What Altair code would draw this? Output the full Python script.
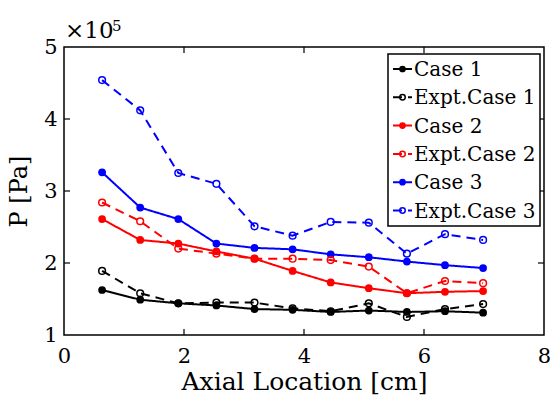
import altair as alt
import pandas as pd

# Axial measurement stations [cm]
axial_cm = [0.635, 1.27, 1.905, 2.54, 3.175, 3.81, 4.445, 5.08, 5.715, 6.35, 6.985]

# Pressure in units of 1e5 Pa
case1 = [1.625, 1.49, 1.44, 1.41, 1.36, 1.35, 1.32, 1.34, 1.32, 1.33, 1.31]
expt1 = [1.89, 1.58, 1.44, 1.45, 1.45, 1.37, 1.33, 1.44, 1.25, 1.36, 1.43]
case2 = [2.61, 2.32, 2.27, 2.16, 2.06, 1.89, 1.73, 1.65, 1.58, 1.60, 1.61]
expt2 = [2.84, 2.58, 2.20, 2.13, 2.06, 2.06, 2.04, 1.95, 1.58, 1.75, 1.72]
case3 = [3.26, 2.77, 2.61, 2.27, 2.21, 2.19, 2.12, 2.08, 2.02, 1.97, 1.93]
expt3 = [4.54, 4.12, 3.25, 3.10, 2.51, 2.38, 2.57, 2.56, 2.13, 2.40, 2.32]

series_names = ["Case 1", "Expt.Case 1", "Case 2", "Expt.Case 2", "Case 3", "Expt.Case 3"]
series_colors = ["#000000", "#000000", "#ff0000", "#ff0000", "#0000ff", "#0000ff"]
series_values = [case1, expt1, case2, expt2, case3, expt3]

x_ticks = [0, 2, 4, 6, 8]
y_ticks = [1, 2, 3, 4, 5]
x_inner_ticks = [2, 4, 6]
y_inner_ticks = [2, 3, 4]

W, H = 480, 288
FONT = "DejaVu Serif"

rows = []
for name, vals in zip(series_names, series_values):
    kind = "expt" if name.startswith("Expt") else "model"
    for x, p in zip(axial_cm, vals):
        rows.append({"series": name, "kind": kind, "x": x, "p": p})
df = pd.DataFrame(rows)

x_enc = alt.X(
    "x:Q",
    scale=alt.Scale(domain=[0, 8], nice=False),
    axis=alt.Axis(
        values=x_ticks, title="Axial Location [cm]", format="d",
        labelFlush=False, labelPadding=10, titlePadding=3, titleFontSize=25,
    ),
)
y_enc = alt.Y(
    "p:Q",
    scale=alt.Scale(domain=[1, 5], nice=False, zero=False),
    axis=alt.Axis(
        values=y_ticks, title="P [Pa]", format="d", labelFlush=False,
        labelPadding=7, titlePadding=12, titleFontSize=24,
    ),
)
color_enc = alt.Color(
    "series:N", scale=alt.Scale(domain=series_names, range=series_colors), legend=None
)
dash_enc = alt.StrokeDash(
    "kind:N", scale=alt.Scale(domain=["model", "expt"], range=[[1, 0], [9, 6]]), legend=None
)

lines = alt.Chart(df).mark_line(strokeWidth=2).encode(
    x=x_enc, y=y_enc, color=color_enc, strokeDash=dash_enc
)
filled_pts = (
    alt.Chart(df)
    .transform_filter("datum.kind == 'model'")
    .mark_point(shape="circle", filled=True, size=60, opacity=1)
    .encode(x="x:Q", y="p:Q", color=color_enc)
)
open_pts = (
    alt.Chart(df)
    .transform_filter("datum.kind == 'expt'")
    .mark_point(shape="circle", filled=False, size=45, strokeWidth=1.5, opacity=1)
    .encode(x="x:Q", y="p:Q", color=color_enc)
)

# Inward tick marks on all four sides of the box
xt = pd.DataFrame({"x": x_inner_ticks})
yt = pd.DataFrame({"p": y_inner_ticks})
tick_style = dict(color="black", strokeWidth=1.2)
ticks_bottom = alt.Chart(xt).mark_rule(**tick_style).encode(
    x="x:Q", y=alt.value(H), y2=alt.value(H - 6)
)
ticks_top = alt.Chart(xt).mark_rule(**tick_style).encode(
    x="x:Q", y=alt.value(0), y2=alt.value(6)
)
ticks_left = alt.Chart(yt).mark_rule(**tick_style).encode(
    y="p:Q", x=alt.value(0), x2=alt.value(6)
)
ticks_right = alt.Chart(yt).mark_rule(**tick_style).encode(
    y="p:Q", x=alt.value(W), x2=alt.value(W - 6)
)

# Legend box drawn inside the plot area
leg_top, leg_step = 22, 28.3
leg = pd.DataFrame(
    {
        "series": series_names,
        "kind": ["expt" if s.startswith("Expt") else "model" for s in series_names],
        "ly": [leg_top + i * leg_step for i in range(len(series_names))],
        "lx0": [329] * 6,
        "lx1": [348] * 6,
        "cx": [338.5] * 6,
        "tx": [350] * 6,
    }
)
leg_box = alt.Chart(pd.DataFrame({"b": [0]})).mark_rect(
    fill="white", stroke="black", strokeWidth=1.5
).encode(x=alt.value(324), x2=alt.value(476), y=alt.value(7), y2=alt.value(179))
leg_lines = alt.Chart(leg).mark_rule(strokeWidth=2).encode(
    x=alt.X("lx0:Q", scale=None),
    x2="lx1:Q",
    y=alt.Y("ly:Q", scale=None),
    color=color_enc,
    strokeDash=alt.StrokeDash(
        "kind:N", scale=alt.Scale(domain=["model", "expt"], range=[[1, 0], [5, 9]]), legend=None
    ),
)
leg_filled = (
    alt.Chart(leg)
    .transform_filter("datum.kind == 'model'")
    .mark_point(shape="circle", filled=True, size=45, opacity=1)
    .encode(x=alt.X("cx:Q", scale=None), y=alt.Y("ly:Q", scale=None), color=color_enc)
)
leg_open = (
    alt.Chart(leg)
    .transform_filter("datum.kind == 'expt'")
    .mark_point(shape="circle", filled=False, size=30, strokeWidth=1.5, opacity=1)
    .encode(x=alt.X("cx:Q", scale=None), y=alt.Y("ly:Q", scale=None), color=color_enc)
)
leg_text = alt.Chart(leg).mark_text(
    align="left", baseline="middle", font=FONT, fontSize=20, color="black", dy=1
).encode(x=alt.X("tx:Q", scale=None), y=alt.Y("ly:Q", scale=None), text="series:N")

# Axis multiplier annotation
mult = alt.Chart(pd.DataFrame({"t": ["×10"]})).mark_text(
    align="left", baseline="alphabetic", font=FONT, fontSize=23, color="black"
).encode(x=alt.value(1), y=alt.value(-9), text="t:N")
mult_exp = alt.Chart(pd.DataFrame({"t": ["5"]})).mark_text(
    align="left", baseline="alphabetic", font=FONT, fontSize=15, color="black"
).encode(x=alt.value(48), y=alt.value(-16), text="t:N")

chart = (
    alt.layer(
        lines, filled_pts, open_pts,
        ticks_bottom, ticks_top, ticks_left, ticks_right,
        leg_box, leg_lines, leg_filled, leg_open, leg_text,
        mult, mult_exp,
    )
    .properties(
        width=W,
        height=H,
        autosize=alt.AutoSizeParams(type="none"),
        padding={"left": 64, "top": 47, "right": 10, "bottom": 66},
        background="white",
    )
    .configure_view(stroke="black", strokeWidth=1.5)
    .configure_axis(
        domain=False,
        ticks=False,
        tickSize=0,
        grid=False,
        labelFont=FONT,
        labelFontSize=21,
        labelColor="black",
        titleFont=FONT,
        titleFontWeight="normal",
        titleColor="black",
    )
)

chart.save("out.html", embed_options={"renderer": "svg", "actions": False})
